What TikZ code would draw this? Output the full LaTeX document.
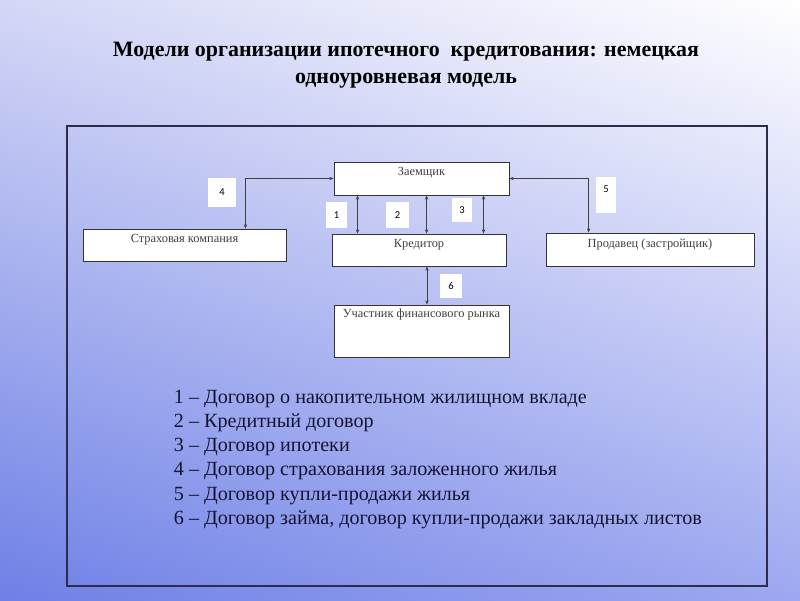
\documentclass[tikz,border=0pt]{standalone}
\usepackage{fontspec}
\setmainfont{Liberation Serif}
\newfontfamily\numfont{Carlito}
\usetikzlibrary{arrows.meta,calc,shadings}
\definecolor{bgul}{RGB}{212,215,246}
\definecolor{bgll}{RGB}{110,128,230}
\definecolor{bglr}{RGB}{158,168,240}
\definecolor{framecol}{RGB}{45,45,75}
\definecolor{legcol}{RGB}{20,20,50}
\begin{document}
\begin{tikzpicture}[x=0.025cm,y=-0.025cm,
  box/.style={draw=black!80,fill=white,line width=0.6pt,inner sep=0pt},
  boxtext/.style={font=\fontsize{8.8}{10}\selectfont,text=black!75,anchor=center},
  numbox/.style={fill=white,inner sep=0pt,font=\numfont\fontsize{7.5}{8}\selectfont},
  conn/.style={draw=black!75,line width=0.6pt,{Stealth[length=3pt,width=2.4pt]}-{Stealth[length=3pt,width=2.4pt]}}]
\useasboundingbox (0,0) rectangle (800,600);
\shade[upper left=bgul,upper right=white,lower left=bgll,lower right=bglr] (0,0) rectangle (800,600);
\node[font=\bfseries\fontsize{15.6}{19.5}\selectfont,align=center] (title) at (406,65)
  {Модели организации ипотечного\ \ кредитования: немецкая\\одноуровневая модель};
\draw[framecol,line width=1.1pt] (67,126) rectangle (767,586);
\node[box,minimum width=4.375cm,minimum height=0.825cm] (zaem) at (421.5,178.5) {};
\node[boxtext] (zaemt) at ($(zaem.north)+(0,11)$) {Заемщик};
\node[box,minimum width=4.35cm,minimum height=0.8cm] (kred) at (419,250) {};
\node[boxtext] (kredt) at ($(kred.north)+(0,11)$) {Кредитор};
\node[box,minimum width=5.075cm,minimum height=0.8cm] (strah) at (184.5,245) {};
\node[boxtext] (straht) at ($(strah.north)+(0,11)$) {Страховая компания};
\node[box,minimum width=5.2cm,minimum height=0.825cm] (prod) at (650,249.5) {};
\node[boxtext] (prodt) at ($(prod.north)+(0,12)$) {Продавец (застройщик)};
\node[box,minimum width=4.375cm,minimum height=1.3cm] (uch) at (421.5,331) {};
\node[boxtext] (ucht) at ($(uch.north)+(0,10)$) {Участник финансового рынка};
\node[numbox,minimum width=0.7cm,minimum height=0.725cm] (n4) at (222,192.5) {4};
\node[numbox,minimum width=0.5cm,minimum height=0.9cm,text depth=9pt] (n5) at (606,195) {5};
\node[numbox,minimum width=0.525cm,minimum height=0.65cm] (n1) at (336.5,215) {1};
\node[numbox,minimum width=0.575cm,minimum height=0.65cm] (n2) at (397.5,215) {2};
\node[numbox,minimum width=0.5cm,minimum height=0.6cm] (n3) at (462,210) {3};
\node[numbox,minimum width=0.55cm,minimum height=0.6cm] (n6) at (451,286) {6};
\coordinate (c4) at ($(strah.north east)+(-41,0)$);
\coordinate (c5) at ($(prod.north west)+(43,0)$);
\coordinate (c1) at ($(zaem.south west)+(24,0)$);
\coordinate (c2) at ($(zaem.south west)+(93,0)$);
\coordinate (c3) at ($(zaem.south west)+(150,0)$);
\coordinate (c6) at ($(kred.south)+(8,0)$);
\draw[conn] (zaem.west) -| (c4);
\draw[conn] (zaem.east) -| (c5);
\draw[conn] (c1) -- (c1 |- kred.north);
\draw[conn] (c2) -- (c2 |- kred.north);
\draw[conn] (c3) -- (c3 |- kred.north);
\draw[conn] (c6) -- (c6 |- uch.north);
\node[anchor=north west,align=left,text=legcol,font=\fontsize{14.3}{17.2}\selectfont] (legend) at (169,385)
  {1 -- Договор о накопительном жилищном вкладе\\
   2 -- Кредитный договор\\
   3 -- Договор ипотеки\\
   4 -- Договор страхования заложенного жилья\\
   5 -- Договор купли-продажи жилья\\
   6 -- Договор займа, договор купли-продажи закладных листов};
\end{tikzpicture}
\end{document}
